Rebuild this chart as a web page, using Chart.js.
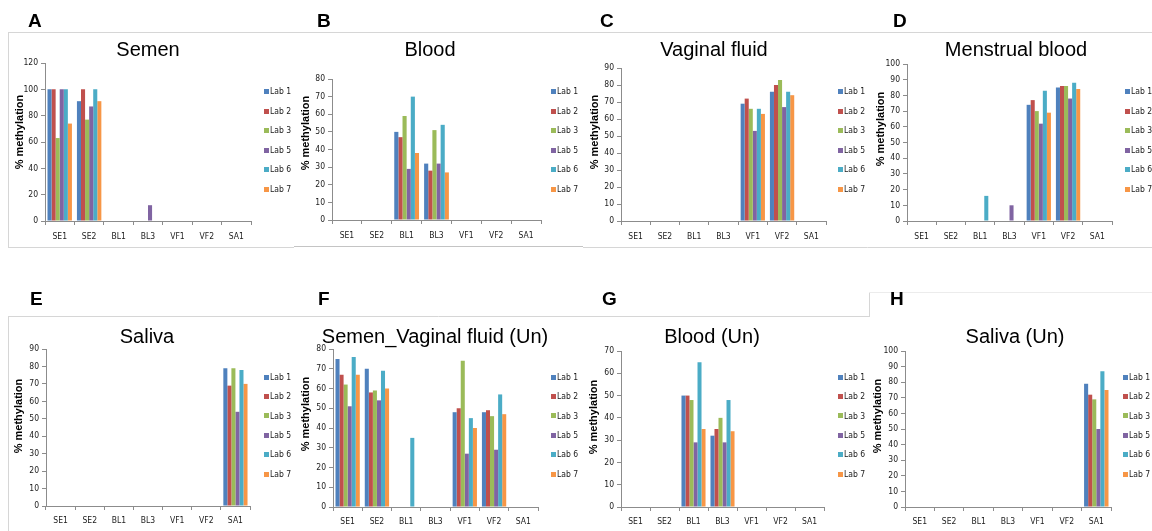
<!DOCTYPE html>
<html>
<head>
<meta charset="utf-8">
<script src="https://cdn.jsdelivr.net/npm/chart.js@4.4.1/dist/chart.umd.min.js"></script>
<style>
  html, body { margin: 0; padding: 0; background: #fff; }
  #figure { position: relative; width: 1152px; height: 531px; overflow: hidden; background: #fff; }
  #figure canvas { position: absolute; }
</style>
</head>
<body>
<div id="figure">
  <canvas id="frames" width="1152" height="531" style="left:0;top:0"></canvas>
</div>
<script>
const categories = ['SE1', 'SE2', 'BL1', 'BL3', 'VF1', 'VF2', 'SA1'];
const labs = ['Lab 1', 'Lab 2', 'Lab 3', 'Lab 5', 'Lab 6', 'Lab 7'];
const labColors = ['#4F81BD', '#C0504D', '#9BBB59', '#8064A2', '#4BACC6', '#F79646'];

// % methylation: one row per lab (order of labs), one column per sample (order of categories)
const semen = [
  [100, 91, 0, 0, 0, 0, 0],
  [100, 100, 0, 0, 0, 0, 0],
  [63, 77, 0, 0, 0, 0, 0],
  [100, 87, 0, 12, 0, 0, 0],
  [100, 100, 0, 0, 0, 0, 0],
  [74, 91, 0, 0, 0, 0, 0]
];
const blood = [
  [0, 0, 50, 32, 0, 0, 0],
  [0, 0, 47, 28, 0, 0, 0],
  [0, 0, 59, 51, 0, 0, 0],
  [0, 0, 29, 32, 0, 0, 0],
  [0, 0, 70, 54, 0, 0, 0],
  [0, 0, 38, 27, 0, 0, 0]
];
const vaginalFluid = [
  [0, 0, 0, 0, 69, 76, 0],
  [0, 0, 0, 0, 72, 80, 0],
  [0, 0, 0, 0, 66, 83, 0],
  [0, 0, 0, 0, 53, 67, 0],
  [0, 0, 0, 0, 66, 76, 0],
  [0, 0, 0, 0, 63, 74, 0]
];
const menstrualBlood = [
  [0, 0, 0, 0, 74, 85, 0],
  [0, 0, 0, 0, 77, 86, 0],
  [0, 0, 0, 0, 70, 86, 0],
  [0, 0, 0, 10, 62, 78, 0],
  [0, 0, 16, 0, 83, 88, 0],
  [0, 0, 0, 0, 69, 84, 0]
];
const saliva = [
  [0, 0, 0, 0, 0, 0, 79],
  [0, 0, 0, 0, 0, 0, 69],
  [0, 0, 0, 0, 0, 0, 79],
  [0, 0, 0, 0, 0, 0, 54],
  [0, 0, 0, 0, 0, 0, 78],
  [0, 0, 0, 0, 0, 0, 70]
];
const semenVaginalUn = [
  [75, 70, 0, 0, 48, 48, 0],
  [67, 58, 0, 0, 50, 49, 0],
  [62, 59, 0, 0, 74, 46, 0],
  [51, 54, 0, 0, 27, 29, 0],
  [76, 69, 35, 0, 45, 57, 0],
  [67, 60, 0, 0, 40, 47, 0]
];
const bloodUn = [
  [0, 0, 50, 32, 0, 0, 0],
  [0, 0, 50, 35, 0, 0, 0],
  [0, 0, 48, 40, 0, 0, 0],
  [0, 0, 29, 29, 0, 0, 0],
  [0, 0, 65, 48, 0, 0, 0],
  [0, 0, 35, 34, 0, 0, 0]
];
const salivaUn = [
  [0, 0, 0, 0, 0, 0, 79],
  [0, 0, 0, 0, 0, 0, 72],
  [0, 0, 0, 0, 0, 0, 69],
  [0, 0, 0, 0, 0, 0, 50],
  [0, 0, 0, 0, 0, 0, 87],
  [0, 0, 0, 0, 0, 0, 75]
];

const yMaxes = [120, 80, 90, 100, 90, 80, 70, 100];
const ySteps = [20, 10, 10, 10, 10, 10, 10, 10];
const titles = ['Semen', 'Blood', 'Vaginal fluid', 'Menstrual blood',
  'Saliva', 'Semen_Vaginal fluid (Un)', 'Blood (Un)', 'Saliva (Un)'];
const letters = ['A', 'B', 'C', 'D', 'E', 'F', 'G', 'H'];
const panelValues = [semen, blood, vaginalFluid, menstrualBlood,
  saliva, semenVaginalUn, bloodUn, salivaUn];

// page geometry of each panel (axis corner, plot top/right, text anchors)
const layout = [
  { row: 0, axisX: 45,  top: 63,  zero: 221, right: 251,  titleX: 148,  yTitleX: 20,  yTitleY: 132, legendX: 264,  letterX: 28 },
  { row: 0, axisX: 332, top: 79,  zero: 220, right: 541,  titleX: 430,  yTitleX: 306, yTitleY: 133, legendX: 551,  letterX: 317 },
  { row: 0, axisX: 621, top: 68,  zero: 221, right: 826,  titleX: 714,  yTitleX: 595, yTitleY: 132, legendX: 838,  letterX: 600 },
  { row: 0, axisX: 907, top: 64,  zero: 221, right: 1112, titleX: 1016, yTitleX: 881, yTitleY: 129, legendX: 1125, letterX: 893 },
  { row: 1, axisX: 46,  top: 349, zero: 506, right: 250,  titleX: 147,  yTitleX: 19,  yTitleY: 416, legendX: 264,  letterX: 30 },
  { row: 1, axisX: 333, top: 349, zero: 507, right: 538,  titleX: 435,  yTitleX: 306, yTitleY: 414, legendX: 551,  letterX: 318 },
  { row: 1, axisX: 621, top: 351, zero: 507, right: 824,  titleX: 712,  yTitleX: 594, yTitleY: 417, legendX: 838,  letterX: 602 },
  { row: 1, axisX: 905, top: 351, zero: 507, right: 1111, titleX: 1015, yTitleX: 878, yTitleY: 416, legendX: 1123, letterX: 890 }
];
const rows = [
  { top: 0,   height: 255, titleBase: 56,  letterBase: 27,  legendY: 92,    legendStep: 19.5 },
  { top: 280, height: 251, titleBase: 343, letterBase: 305, legendY: 377.5, legendStep: 19.4 }
];

const CANVAS_W = 310;
const Y_AXIS_W = 45;
const X_AXIS_H = 22;
const AXIS_GREY = '#8c8c8c';
const TICK_FONT = "'Liberation Sans Narrow', 'DejaVu Sans Condensed', sans-serif";
const SANS = "'Liberation Sans', Arial, sans-serif";

// light panel frames and the panel letters
function drawFrames() {
  const ctx = document.getElementById('frames').getContext('2d');
  ctx.lineWidth = 1;
  ctx.strokeStyle = '#d6d6d6';
  ctx.beginPath();
  ctx.moveTo(8, 32.5); ctx.lineTo(1152, 32.5);
  ctx.moveTo(8, 247.5); ctx.lineTo(294, 247.5);
  ctx.moveTo(583, 247.5); ctx.lineTo(1152, 247.5);
  ctx.moveTo(8.5, 32); ctx.lineTo(8.5, 248);
  ctx.moveTo(8, 316.5); ctx.lineTo(869, 316.5);
  ctx.moveTo(8.5, 316); ctx.lineTo(8.5, 531);
  ctx.moveTo(869.5, 292); ctx.lineTo(869.5, 317);
  ctx.stroke();
  ctx.strokeStyle = '#c4c4c4';
  ctx.beginPath();
  ctx.moveTo(294, 246.5); ctx.lineTo(583, 246.5);
  ctx.stroke();
  ctx.strokeStyle = '#ececec';
  ctx.beginPath();
  ctx.moveTo(869, 292.5); ctx.lineTo(1152, 292.5);
  ctx.stroke();

  ctx.fillStyle = '#000';
  ctx.font = 'bold 19px ' + SANS;
  ctx.textBaseline = 'alphabetic';
  layout.forEach((p, i) => {
    ctx.fillText(letters[i], p.letterX, rows[p.row].letterBase);
  });
}

// title, rotated y title and the legend column, drawn in page coordinates
function panelText(i, originX, originY) {
  const p = layout[i];
  const r = rows[p.row];
  return {
    id: 'panelText' + i,
    afterDraw(chart) {
      const ctx = chart.ctx;
      ctx.save();
      ctx.translate(-originX, -originY);
      ctx.fillStyle = '#000';

      ctx.font = '20px ' + SANS;
      ctx.textAlign = 'center';
      ctx.textBaseline = 'alphabetic';
      ctx.fillText(titles[i], p.titleX, r.titleBase);

      ctx.save();
      ctx.translate(p.yTitleX, p.yTitleY);
      ctx.rotate(-Math.PI / 2);
      ctx.font = 'bold 11px ' + SANS;
      ctx.textBaseline = 'middle';
      ctx.fillText('% methylation', 0, 0);
      ctx.restore();

      ctx.font = '8.5px ' + TICK_FONT;
      ctx.textAlign = 'left';
      ctx.textBaseline = 'middle';
      chart.data.datasets.forEach((ds, k) => {
        const y = r.legendY + k * r.legendStep;
        ctx.fillStyle = ds.backgroundColor;
        ctx.fillRect(p.legendX, Math.round(y) - 3, 5, 5);
        ctx.fillStyle = '#1a1a1a';
        ctx.fillText(ds.label, p.legendX + 6, y);
      });
      ctx.restore();
    }
  };
}

function drawPanel(i) {
  const p = layout[i];
  const r = rows[p.row];
  const left = p.axisX - Y_AXIS_W;

  const canvas = document.createElement('canvas');
  canvas.width = CANVAS_W;
  canvas.height = r.height;
  canvas.style.left = left + 'px';
  canvas.style.top = r.top + 'px';
  document.getElementById('figure').appendChild(canvas);

  const tickFont = { family: TICK_FONT, size: 8.5 };

  new Chart(canvas, {
    type: 'bar',
    data: {
      labels: categories,
      datasets: labs.map((lab, k) => ({
        label: lab,
        data: panelValues[i][k],
        backgroundColor: labColors[k],
        borderWidth: 0,
        categoryPercentage: 0.83,
        barPercentage: 1.0
      }))
    },
    options: {
      responsive: false,
      animation: false,
      devicePixelRatio: 1,
      layout: {
        padding: {
          left: 0,
          top: p.top - r.top,
          right: CANVAS_W - (p.right - left),
          bottom: r.height - (p.zero - r.top) - X_AXIS_H
        }
      },
      plugins: {
        legend: { display: false },
        tooltip: { enabled: false }
      },
      scales: {
        x: {
          offset: true,
          grid: { offset: true, drawOnChartArea: false, tickLength: 4, color: AXIS_GREY },
          border: { color: AXIS_GREY },
          ticks: { font: tickFont, color: '#1a1a1a', padding: p.row ? 6 : 7, maxRotation: 0, autoSkip: false },
          afterFit: s => { s.height = X_AXIS_H; }
        },
        y: {
          min: 0,
          max: yMaxes[i],
          grid: { drawOnChartArea: false, tickLength: 4, color: AXIS_GREY },
          border: { color: AXIS_GREY },
          ticks: { stepSize: ySteps[i], font: tickFont, color: '#1a1a1a', padding: 3 },
          afterFit: s => { s.width = Y_AXIS_W; }
        }
      }
    },
    plugins: [panelText(i, left, r.top)]
  });
}

drawFrames();
layout.forEach((p, i) => drawPanel(i));
</script>
</body>
</html>
